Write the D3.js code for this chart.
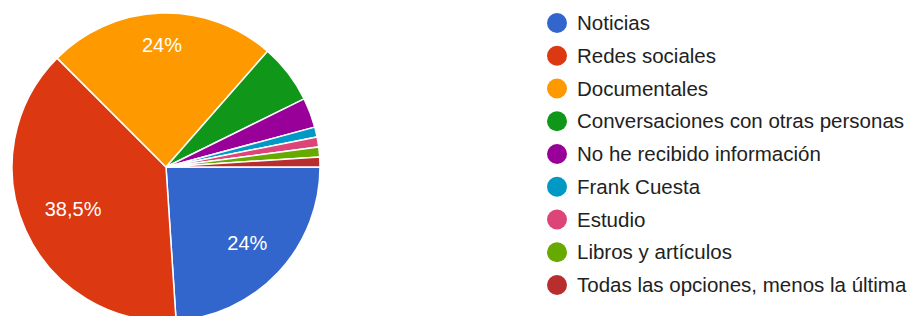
<!DOCTYPE html>
<html>
<head>
<meta charset="utf-8">
<script src="https://cdn.jsdelivr.net/npm/d3@7"></script>
<style>
  html, body { margin: 0; padding: 0; background: #fff; }
  svg { display: block; font-family: 'Liberation Sans', Arial, sans-serif; }
</style>
</head>
<body>
<div id="chart"></div>
<script>
// answers (n = 96)
var categories = [
  'Noticias',
  'Redes sociales',
  'Documentales',
  'Conversaciones con otras personas',
  'No he recibido información',
  'Frank Cuesta',
  'Estudio',
  'Libros y artículos',
  'Todas las opciones, menos la última'
];
var counts = [23, 37, 23, 6, 3, 1, 1, 1, 1];
var colors = ['#3366cc', '#dc3912', '#ff9900', '#109618', '#990099',
  '#0099c6', '#dd4477', '#66aa00', '#b82e2e'];

var W = 910, H = 316;
var cx = 166, cy = 167, r = 154;

var svg = d3.select('#chart').append('svg')
  .attr('width', W)
  .attr('height', H);

var total = d3.sum(counts);
var data = categories.map(function(c, i) {
  return { name: c, value: counts[i], color: colors[i] };
});

var pie = d3.pie()
  .sort(null)
  .value(function(d) { return d.value; })
  .startAngle(Math.PI / 2)
  .endAngle(Math.PI / 2 + 2 * Math.PI);

var arc = d3.arc().innerRadius(0).outerRadius(r);

var g = svg.append('g').attr('transform', 'translate(' + cx + ',' + cy + ')');
var arcs = pie(data);

g.selectAll('path')
  .data(arcs)
  .enter()
  .append('path')
  .attr('d', arc)
  .attr('fill', function(d) { return d.data.color; })
  .attr('stroke', '#fff')
  .attr('stroke-width', 1.5);

// percent labels, only on big slices; outer corner of the box sits at ~0.85r
var fmt = function(v) {
  var p = Math.round(v / total * 1000) / 10;
  return String(p).replace('.', ',') + '%';
};
var cornerR = r * 0.85;

g.selectAll('text.pct')
  .data(arcs.filter(function(d) { return d.data.value / total > 0.05 && d.endAngle - d.startAngle > 0.5; }))
  .enter()
  .append('text')
  .attr('class', 'pct')
  .attr('fill', '#fff')
  .attr('font-size', 20)
  .attr('text-anchor', 'middle')
  .attr('dy', '0.35em')
  .text(function(d) { return fmt(d.data.value); })
  .each(function(d) {
    var bb = this.getBBox();
    var a = (d.startAngle + d.endAngle) / 2;
    var ux = Math.sin(a), uy = -Math.cos(a);
    var hw = bb.width / 2, hh = 7;
    var dist = 10;
    for (var k = 0; k < 300; k++) {
      var fx = ux * dist + (ux >= 0 ? hw : -hw);
      var fy = uy * dist + (uy >= 0 ? hh : -hh);
      if (Math.sqrt(fx * fx + fy * fy) >= cornerR) break;
      dist += 0.5;
    }
    d3.select(this).attr('x', ux * dist).attr('y', uy * dist);
  });

// legend
var legend = svg.append('g').attr('transform', 'translate(557,23)');
var rowH = 32.75;
var rows = legend.selectAll('g')
  .data(data)
  .enter()
  .append('g')
  .attr('transform', function(d, i) { return 'translate(0,' + (i * rowH) + ')'; });

rows.append('circle')
  .attr('r', 10)
  .attr('fill', function(d) { return d.color; });

rows.append('text')
  .attr('x', 20)
  .attr('dy', '0.35em')
  .attr('font-size', 20.5)
  .attr('fill', '#222')
  .text(function(d) { return d.name; });
</script>
</body>
</html>
